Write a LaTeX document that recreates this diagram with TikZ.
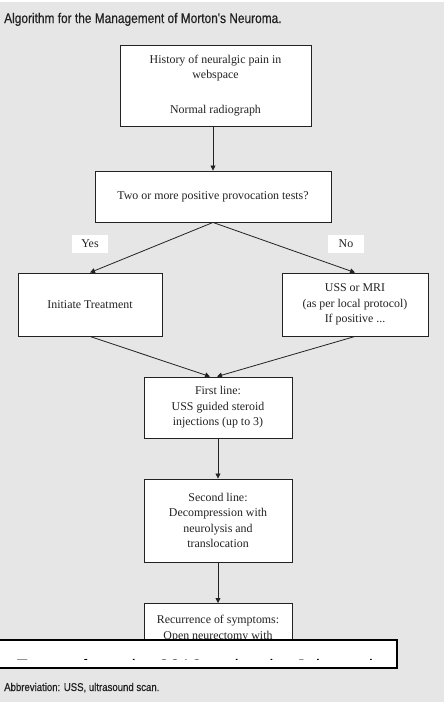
\documentclass[tikz,border=0pt]{standalone}
\usepackage{fontspec}
\setmainfont{Liberation Serif}
\newfontfamily\titlefont[FakeStretch=0.85,FakeBold=0.4]{Liberation Sans}
\newfontfamily\overfont{Liberation Sans}
\usetikzlibrary{arrows.meta}
\definecolor{bg}{HTML}{E6E6E6}
\definecolor{ink}{HTML}{222222}
\begin{document}
\begin{tikzpicture}[x=1pt,y=-1pt,
  box/.style={draw=ink, fill=white, line width=0.9pt, align=center,
    font=\fontsize{11.9}{15.5}\selectfont, text=ink, inner sep=0pt},
  arr/.style={draw=ink, line width=0.8pt, -{Triangle[length=5pt,width=5pt]}},
  lab/.style={fill=white, text=ink, font=\fontsize{11.9}{13}\selectfont,
    minimum width=36pt, minimum height=18pt, inner sep=0pt},
  caption/.style={anchor=base west, text=ink, inner sep=0pt}]
\useasboundingbox (0,0) rectangle (444,702);
\fill[bg] (0,2) rectangle (444,702);
\node[caption, font=\titlefont\fontsize{14}{16}\selectfont] (title) at (4,23)
  {Algorithm for the Management of Morton's Neuroma.};

\node[box, minimum width=191pt, minimum height=81pt] (hist) at (215.5,85.5)
  {History of neuralgic pain in\\webspace\\[19pt]Normal radiograph};
\node[box, minimum width=236pt, minimum height=51pt] (q) at (213,196.5)
  {Two or more positive provocation tests?};
\node[lab] (yes) at (90,244) {Yes};
\node[lab] (no) at (346,244) {No};
\node[box, minimum width=144pt, minimum height=63pt] (init) at (90,304.5)
  {Initiate Treatment};
\node[box, minimum width=146pt, minimum height=63pt] (uss) at (355,304.5)
  {USS or MRI\\(as per local protocol)\\If positive ...};
\node[box, minimum width=148pt, minimum height=61pt] (first) at (218,407.5)
  {First line:\\USS guided steroid\\injections (up to 3)};
\node[box, minimum width=148pt, minimum height=83pt] (second) at (218,520.5)
  {Second line:\\Decompression with\\neurolysis and\\translocation};
\node[box, anchor=north, minimum width=148pt, inner ysep=6pt,
  text height=30pt, text depth=17pt] (recur) at (218,603)
  {Recurrence of symptoms:\\Open neurectomy with};

\draw[arr] (hist.south -| q.north) -- (q.north);
\draw[arr] (q.south) -- (init.north);
\draw[arr] (q.south) -- (uss.north);
\draw[arr] (init.south) -- ([xshift=-8pt]first.north);
\draw[arr] (uss.south) -- ([xshift=-1pt]first.north);
\draw[arr] (first.south) -- (second.north);
\draw[arr] (second.south) -- (recur.north);

\node[draw=black, line width=2pt, fill=white, minimum width=399pt,
  minimum height=28pt, inner sep=0pt] (ov) at (197.5,654) {};
\begin{scope}
  \clip (0,641) rectangle (396,659);
  \node[caption, font=\overfont\fontsize{19.5}{20}\selectfont, text=black]
    (ext) at (15.5,673.5) {Extract from the 2012 review by Jain et al};
\end{scope}

\node[caption, font=\titlefont\fontsize{11.3}{13}\selectfont] (abbr) at (4,691)
  {Abbreviation: USS, ultrasound scan.};
\end{tikzpicture}
\end{document}
